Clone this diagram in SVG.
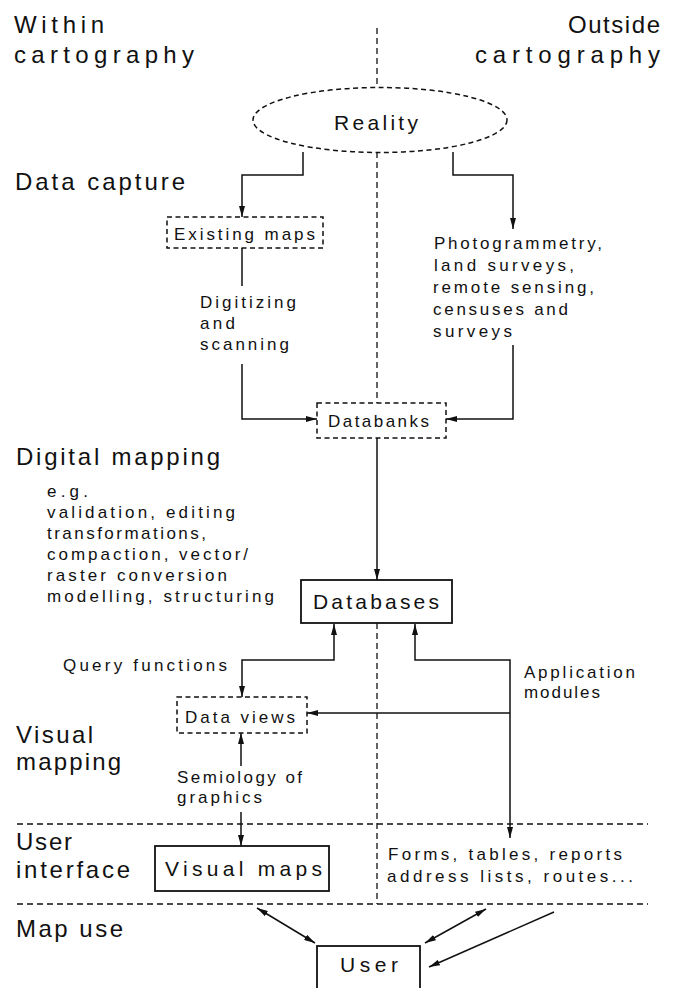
<svg xmlns="http://www.w3.org/2000/svg" width="673" height="988" viewBox="0 0 673 988">
  <defs>
    <marker id="ah" viewBox="0 0 11 6" refX="11" refY="3" markerWidth="11" markerHeight="6" markerUnits="userSpaceOnUse" orient="auto-start-reverse">
      <path d="M0,0 L11,3 L0,6 z" fill="#111"/>
    </marker>
    <style>
      text { font-family: "Liberation Sans", Arial, sans-serif; fill: #111; }
      .head { font-size: 24px; }
      .node { font-size: 21px; }
      .small { font-size: 17px; }
      .conn { fill: none; stroke: #111; stroke-width: 1.5; }
      .sep { fill: none; stroke: #111; stroke-width: 1.3; stroke-dasharray: 6 4; }
      .dbox { fill: none; stroke: #111; stroke-width: 1.5; stroke-dasharray: 5 3.5; }
      .sbox { fill: #fff; stroke: #111; stroke-width: 1.8; }
    </style>
  </defs>

  <!-- section headings -->
  <g id="headings">
    <text class="head" x="14" y="33" textLength="90" lengthAdjust="spacing">Within</text>
    <text class="head" x="14" y="63" textLength="180" lengthAdjust="spacing">cartography</text>
    <text class="head" x="660" y="33" text-anchor="end" textLength="92" lengthAdjust="spacing">Outside</text>
    <text class="head" x="660" y="63" text-anchor="end" textLength="185" lengthAdjust="spacing">cartography</text>
    <text class="head" x="15" y="190" textLength="170" lengthAdjust="spacing">Data capture</text>
    <text class="head" x="16" y="465" textLength="204" lengthAdjust="spacing">Digital mapping</text>
    <text class="head" x="16" y="743" textLength="77" lengthAdjust="spacing">Visual</text>
    <text class="head" x="16" y="770" textLength="105" lengthAdjust="spacing">mapping</text>
    <text class="head" x="16" y="850" textLength="56" lengthAdjust="spacing">User</text>
    <text class="head" x="16" y="878" textLength="114" lengthAdjust="spacing">interface</text>
    <text class="head" x="16" y="937" textLength="107" lengthAdjust="spacing">Map use</text>
  </g>

  <!-- dashed dividers -->
  <g id="dividers">
    <path class="sep" d="M377,28 V88"/>
    <path class="sep" d="M377,152 V403"/>
    <path class="sep" d="M377,623 V904"/>
    <path class="sep" d="M17,824 H648"/>
    <path class="sep" d="M17,904 H648"/>
  </g>

  <!-- connectors -->
  <g id="connectors">
    <path class="conn" d="M303,152 V175 H242 V217" marker-end="url(#ah)"/>
    <path class="conn" d="M453,152 V175 H513 V229" marker-end="url(#ah)"/>
    <path class="conn" d="M242,248 V286"/>
    <path class="conn" d="M242,364 V419 H317" marker-end="url(#ah)"/>
    <path class="conn" d="M513,345 V419 H446" marker-end="url(#ah)"/>
    <path class="conn" d="M377,438 V580" marker-end="url(#ah)"/>
    <path class="conn" d="M334,624 V660 H242 V697" marker-start="url(#ah)" marker-end="url(#ah)"/>
    <path class="conn" d="M415,624 V660 H510 V838" marker-start="url(#ah)" marker-end="url(#ah)"/>
    <path class="conn" d="M510,713 H307" marker-end="url(#ah)"/>
    <path class="conn" d="M241,733 V766" marker-start="url(#ah)"/>
    <path class="conn" d="M241,812 V846" marker-end="url(#ah)"/>
    <path class="conn" d="M257,908 L315,943" marker-start="url(#ah)" marker-end="url(#ah)"/>
    <path class="conn" d="M486,909 L425,943" marker-start="url(#ah)" marker-end="url(#ah)"/>
    <path class="conn" d="M554,912 L429,967" marker-end="url(#ah)"/>
  </g>

  <!-- nodes -->
  <g id="reality">
    <ellipse cx="380" cy="120" rx="127" ry="32.5" class="dbox"/>
    <text class="node" x="376" y="130" text-anchor="middle" textLength="84" lengthAdjust="spacing">Reality</text>
  </g>

  <g id="existing-maps">
    <rect x="167" y="217" width="156" height="31" class="dbox"/>
    <text class="small" x="174" y="240" textLength="141" lengthAdjust="spacing">Existing maps</text>
  </g>

  <g id="field-sources">
    <text class="small" x="434" y="249" textLength="168" lengthAdjust="spacing">Photogrammetry,</text>
    <text class="small" x="434" y="271" textLength="140" lengthAdjust="spacing">land surveys,</text>
    <text class="small" x="433" y="293" textLength="161" lengthAdjust="spacing">remote sensing,</text>
    <text class="small" x="433" y="315" textLength="135" lengthAdjust="spacing">censuses and</text>
    <text class="small" x="433" y="337" textLength="79" lengthAdjust="spacing">surveys</text>
  </g>

  <g id="digitizing">
    <text class="small" x="200" y="308" textLength="96" lengthAdjust="spacing">Digitizing</text>
    <text class="small" x="200" y="329" textLength="35" lengthAdjust="spacing">and</text>
    <text class="small" x="200" y="350" textLength="89" lengthAdjust="spacing">scanning</text>
  </g>

  <g id="databanks">
    <rect x="317" y="403" width="129" height="35" class="dbox"/>
    <text class="small" x="328" y="427" textLength="101" lengthAdjust="spacing">Databanks</text>
  </g>

  <g id="digital-mapping-tasks">
    <text class="small" x="47" y="497" textLength="41" lengthAdjust="spacing">e.g.</text>
    <text class="small" x="47" y="518" textLength="188" lengthAdjust="spacing">validation, editing</text>
    <text class="small" x="47" y="539" textLength="159" lengthAdjust="spacing">transformations,</text>
    <text class="small" x="47" y="560" textLength="201" lengthAdjust="spacing">compaction, vector/</text>
    <text class="small" x="47" y="581" textLength="180" lengthAdjust="spacing">raster conversion</text>
    <text class="small" x="47" y="602" textLength="227" lengthAdjust="spacing">modelling, structuring</text>
  </g>

  <g id="databases">
    <rect x="301" y="580" width="151" height="43" class="sbox"/>
    <text class="node" x="313" y="609" textLength="126" lengthAdjust="spacing">Databases</text>
  </g>

  <g id="query-functions">
    <text class="small" x="63" y="671" textLength="164" lengthAdjust="spacing">Query functions</text>
  </g>

  <g id="application-modules">
    <text class="small" x="524" y="678" textLength="111" lengthAdjust="spacing">Application</text>
    <text class="small" x="524" y="698" textLength="76" lengthAdjust="spacing">modules</text>
  </g>

  <g id="data-views">
    <rect x="177" y="697" width="130" height="36" class="dbox"/>
    <text class="small" x="185" y="723" textLength="110" lengthAdjust="spacing">Data views</text>
  </g>

  <g id="semiology">
    <text class="small" x="177" y="783" textLength="125" lengthAdjust="spacing">Semiology of</text>
    <text class="small" x="177" y="803" textLength="85" lengthAdjust="spacing">graphics</text>
  </g>

  <g id="visual-maps">
    <rect x="155" y="846" width="174" height="45" class="sbox"/>
    <text class="node" x="165" y="876" textLength="157" lengthAdjust="spacing">Visual maps</text>
  </g>

  <g id="forms-tables">
    <text class="small" x="388" y="860" textLength="234" lengthAdjust="spacing">Forms, tables, reports</text>
    <text class="small" x="387" y="882" textLength="246" lengthAdjust="spacing">address lists, routes...</text>
  </g>

  <g id="user">
    <rect x="317" y="946" width="103" height="50" class="sbox"/>
    <text class="node" x="340" y="972" textLength="58" lengthAdjust="spacing">User</text>
  </g>
</svg>
